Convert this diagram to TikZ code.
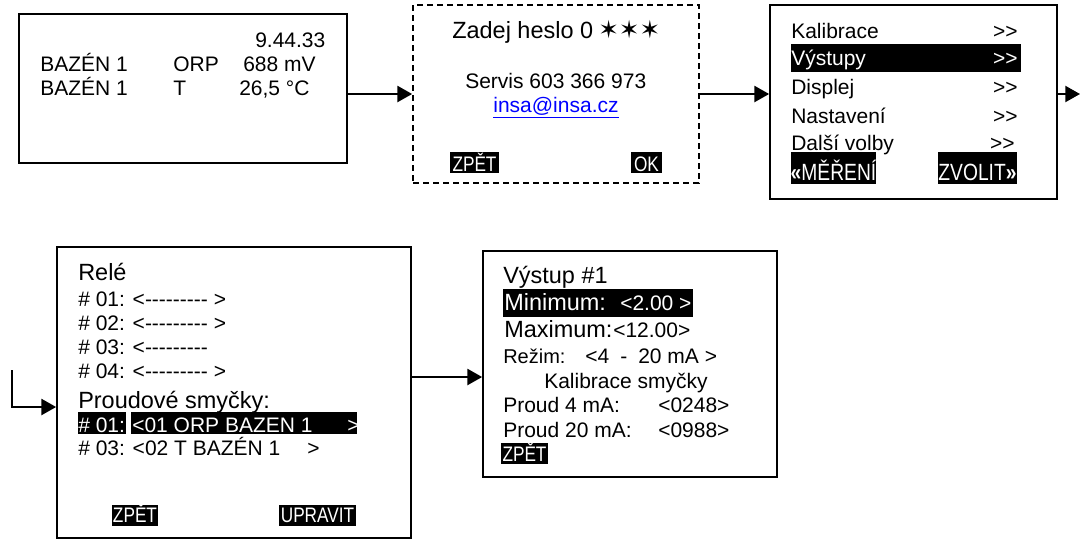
\documentclass[tikz,border=0pt]{standalone}
\usepackage{fontspec}
\setmainfont{Liberation Sans}[Ligatures=TeXOff]
\newfontfamily\symfont{DejaVu Sans}
\usepackage{graphicx}
\usetikzlibrary{fit,arrows.meta,calc}

% font sizes of the display texts
\newcommand\fsa{\fontsize{15.75}{18}\selectfont}
\newcommand\fsb{\fontsize{17.6}{20}\selectfont}
\newcommand\fsc{\fontsize{15}{18}\selectfont}
% narrow lettering of the soft-key labels
\newcommand\narrowkey[1]{\scalebox{0.82}[1]{#1}}

\begin{document}
\begin{tikzpicture}[x=0.75pt,y=-0.75pt,
  screen/.style={draw=black,line width=1.3pt,inner sep=0pt},
  dscreen/.style={screen,dash pattern=on 4.5pt off 3pt},
  bar/.style={fill=black,inner sep=0pt},
  txt/.style={anchor=base west,inner sep=0pt,font=\fsa},
  txtr/.style={anchor=base east,inner sep=0pt,font=\fsa},
  big/.style={txt,font=\fsb},
  small/.style={txt,font=\fsc},
  inv/.style={text=white},
  key/.style={text=white,inner sep=0pt,anchor=base,font=\fsa},
  bigkey/.style={key,font=\fsb},
  link/.style={line width=1.5pt,-{Triangle[length=11pt,width=12pt]}}
]
\useasboundingbox (0,0) rectangle (1080,540);

% ---------- screens ----------
\node[screen, fit={(19,14) (347,163)}] (s1) {};
\node[dscreen, fit={(413,5) (699,183)}] (s2) {};
\node[screen, fit={(770,5) (1057,199)}] (s3) {};
\node[screen, fit={(57,247) (411,538)}] (s4) {};
\node[screen, fit={(483,251) (777,477)}] (s5) {};

% ---------- screen 1: measurement ----------
\node[txt] (clock) at (255,47) {9.44.33};
\node[txt] (p1) at (40,71) {BAZÉN 1};
\node[txt] (q1) at (173,71) {ORP};
\node[txt] (v1) at (243,71) {688 mV};
\node[txt] (p2) at (40,95) {BAZÉN 1};
\node[txt] (q2) at (173,95) {T};
\node[txt] (v2) at (239,95) {26,5 °C};

% ---------- screen 2: password ----------
\node[big] (pwd) at (452,38) {Zadej heslo 0};
\node[anchor=base west,inner sep=0pt,font=\symfont\fontsize{18.5}{20}\selectfont] (stars) at (598,38) {✶✶✶};
\node[txt] (servis) at (465,88) {Servis 603 366 973};
\node[anchor=base,inner sep=0pt,font=\fsa,text=blue] (mail) at (556,112) {\underline{insa@insa.cz}};
\node[bar, fit={(450,152) (499,173)}] (k2a) {};
\node[key] (k2at) at ($(k2a.south)+(0,-2)$) {\narrowkey{ZPĚT}};
\node[bar, fit={(631,152) (662,173)}] (k2b) {};
\node[key] (k2bt) at ($(k2b.south)+(0,-2)$) {\narrowkey{OK}};

% ---------- screen 3: menu ----------
\node[bar, fit={(791,44) (1021,72)}] (sel3) {};
\node[txt] (m1) at (791,38) {Kalibrace};
\node[txtr] (m1r) at (1018,38) {>>};
\node[txt,inv] (m2) at (791,65) {Výstupy};
\node[txtr,inv] (m2r) at (1018,65) {>>};
\node[txt] (m3) at (791,94) {Displej};
\node[txtr] (m3r) at (1018,94) {>>};
\node[txt] (m4) at (791,123) {Nastavení};
\node[txtr] (m4r) at (1018,123) {>>};
\node[txt] (m5) at (791,150) {Další volby};
\node[txtr] (m5r) at (1015,150) {>>};
\node[bar, fit={(791,152) (876,184)}] (k3a) {};
\node[bigkey] (k3at) at ($(k3a.south)+(0,-4)$) {\narrowkey{\textbf{«}MĚŘENÍ}};
\node[bar, fit={(938,152) (1017,184)}] (k3b) {};
\node[bigkey] (k3bt) at ($(k3b.south)+(0,-4)$) {\narrowkey{ZVOLIT\textbf{»}}};

% ---------- screen 4: outputs ----------
\node[big] (rele) at (78,280) {Relé};
\node[txt] (r1) at (78,306) {\# 01: <--------- >};
\node[txt] (r2) at (78,330) {\# 02: <--------- >};
\node[txt] (r3) at (78,354) {\# 03: <---------};
\node[txt] (r4) at (78,378) {\# 04: <--------- >};
\node[big] (loops) at (78,408) {Proudové smyčky:};
\node[bar, fit={(78,412) (126,434)}] (sel4a) {};
\node[bar, fit={(131,412) (357,434)}] (sel4b) {};
\node[txt,inv] (l1a) at (78,432) {\# 01:};
\node[txt,inv] (l1b) at (132,432) {<01 ORP BAZEN 1};
\node[txt,inv] (l1c) at (347,432) {>};
\node[txt] (l2a) at (78,455) {\# 03: <02 T BAZÉN 1};
\node[txt] (l2c) at (307,455) {>};
\node[bar, fit={(112,505) (158,526)}] (k4a) {};
\node[key] (k4at) at ($(k4a.south)+(0,-4)$) {\narrowkey{ZPĚT}};
\node[bar, fit={(279,505) (356,526)}] (k4b) {};
\node[key] (k4bt) at ($(k4b.south)+(0,-4)$) {\narrowkey{UPRAVIT}};

% ---------- screen 5: output #1 ----------
\node[big] (out) at (503,283) {Výstup \#1};
\node[bar, fit={(503,289) (693,317)}] (sel5) {};
\node[big,inv] (mina) at (504,310) {Minimum:};
\node[txt,inv] (minb) at (620,310) {<2.00 >};
\node[big] (maxa) at (504,337) {Maximum:};
\node[txt] (maxb) at (613,337) {<12.00>};
\node[small] (moda) at (503,363) {Režim:};
\node[txt] (modb) at (585,363) {<4};
\node[txt] (modc) at (620,363) {-};
\node[txt] (modd) at (638,363) {20 mA >};
\node[txt] (cal) at (544,388) {Kalibrace smyčky};
\node[txt] (c4a) at (503,412) {Proud 4 mA:};
\node[txt] (c4b) at (658,412) {<0248>};
\node[txt] (c20a) at (503,437) {Proud 20 mA:};
\node[txt] (c20b) at (658,437) {<0988>};
\node[bar, fit={(501,443) (548,464)}] (k5) {};
\node[key] (k5t) at ($(k5.south)+(0,-3)$) {\narrowkey{ZPĚT}};

% ---------- connectors ----------
\coordinate (onward) at (1080,94);
\coordinate (incoming) at (12,370);
\coordinate (entry4) at ($(s4.west)+(0,14.5)$);
\coordinate (entry5) at ($(s5.west)+(0,13)$);
\draw[link] (s1.east |- s2.west) -- (s2.west);
\draw[link] (s2.east) -- (s2.east -| s3.west);
\draw[link] (s3.east |- s2.east) -- (onward);
\draw[link] (incoming) |- (entry4);
\draw[link] (entry5 -| s4.east) -- (entry5);
\end{tikzpicture}
\end{document}
